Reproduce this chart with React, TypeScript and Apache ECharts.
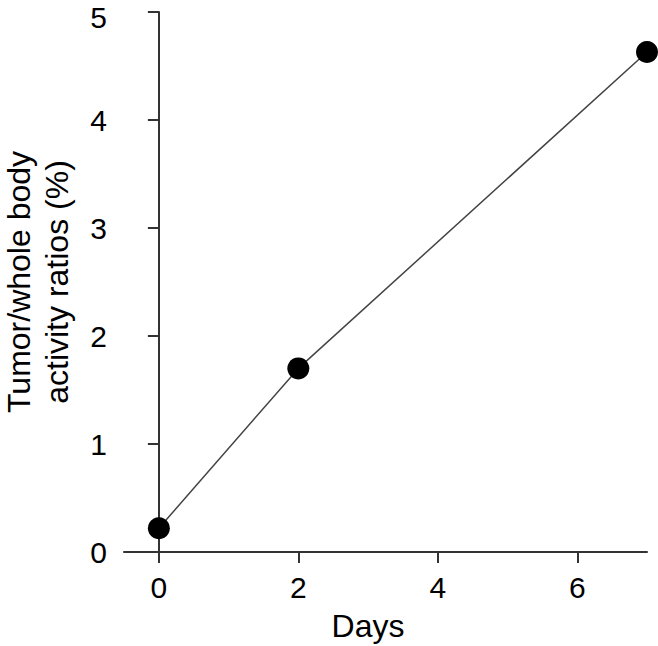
import React, { useEffect, useRef } from "react";
import * as echarts from "echarts";

const days = [0, 2, 7];
const ratios = [0.22, 1.7, 4.63];
const xTicks = [0, 2, 4, 6];
const xTitle = "Days";
const yTitle = "Tumor/whole body\nactivity ratios (%)";

export default function App() {
  const ref = useRef<HTMLDivElement>(null);
  useEffect(() => {
    if (!ref.current) return;
    const chart = echarts.init(ref.current, null, { renderer: "svg" });
    const font = "'Liberation Sans', Arial, sans-serif";
    chart.setOption({
      animation: false,
      backgroundColor: "#ffffff",
      grid: { left: 124, right: 11, top: 12, bottom: 94, containLabel: false, outerBoundsMode: "none" },
      xAxis: {
        type: "value",
        min: -0.5,
        max: 7,
        splitLine: { show: false },
        axisLine: { show: true, lineStyle: { color: "#333", width: 2 } },
        axisTick: { show: true, length: 11, customValues: xTicks, lineStyle: { color: "#333", width: 2 } },
        axisLabel: { customValues: xTicks, fontSize: 30, color: "#000", fontFamily: font, margin: 20 },
      },
      yAxis: {
        type: "value",
        min: 0,
        max: 5,
        interval: 1,
        splitLine: { show: false },
        axisLine: { show: true, lineStyle: { color: "#333", width: 2 } },
        axisTick: { show: true, length: 11, lineStyle: { color: "#333", width: 2 } },
        axisLabel: {
          fontSize: 30,
          color: "#000",
          fontFamily: font,
          margin: 17,
          lineHeight: 20,
          formatter: (v: number) => (v === 5 ? "{top|5}" : String(v)),
          rich: {
            top: { fontSize: 30, color: "#000", fontFamily: font, lineHeight: 20, padding: [10, 0, 0, 0] },
          },
        },
        name: yTitle,
        nameLocation: "middle",
        nameGap: 48,
        nameTextStyle: { fontSize: 32, color: "#000", fontFamily: font, lineHeight: 38 },
      },
      graphic: [
        {
          type: "text",
          x: 368,
          y: 626,
          style: {
            text: xTitle,
            fontSize: 32,
            fill: "#000",
            fontFamily: font,
            textAlign: "center",
            textVerticalAlign: "middle",
          },
        },
      ],
      series: [
        {
          type: "line",
          data: days.map((d, i) => [d, ratios[i]]),
          symbol: "circle",
          symbolSize: 22,
          itemStyle: { color: "#000" },
          lineStyle: { color: "#444", width: 1.5 },
        },
      ],
    });
    return () => chart.dispose();
  }, []);
  return <div ref={ref} style={{ width: 658, height: 646, position: "absolute", left: 0, top: 0 }} />;
}
